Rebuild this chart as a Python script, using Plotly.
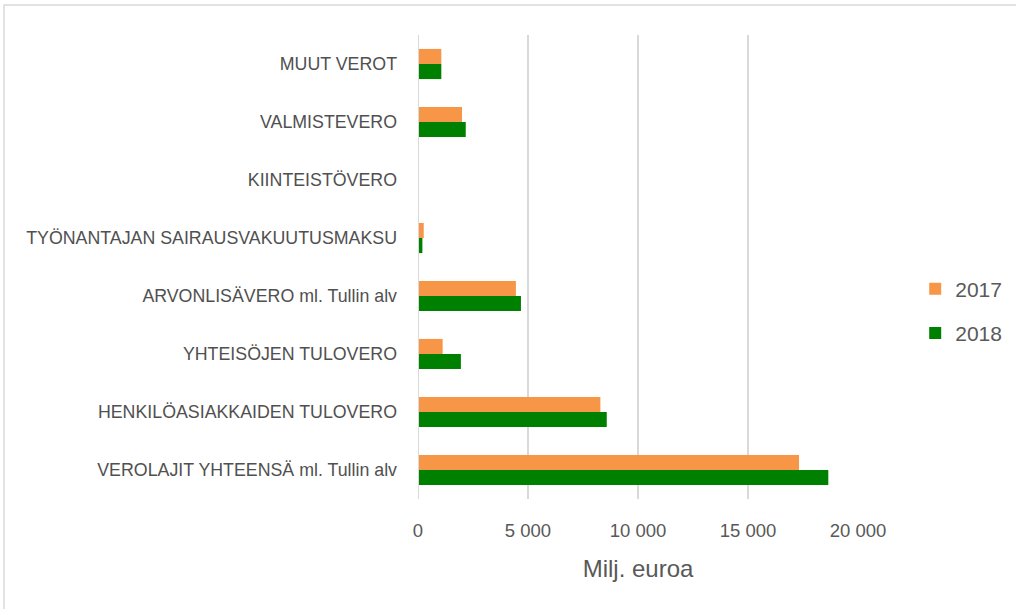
import plotly.graph_objects as go

categories = [
    "VEROLAJIT YHTEENSÄ ml. Tullin alv",
    "HENKILÖASIAKKAIDEN TULOVERO",
    "YHTEISÖJEN TULOVERO",
    "ARVONLISÄVERO ml. Tullin alv",
    "TYÖNANTAJAN SAIRAUSVAKUUTUSMAKSU",
    "KIINTEISTÖVERO",
    "VALMISTEVERO",
    "MUUT VEROT",
]
values_2017 = [17320, 8290, 1120, 4450, 260, 0, 2000, 1060]
values_2018 = [18650, 8580, 1950, 4680, 200, 0, 2170, 1060]
tick_vals = [0, 5000, 10000, 15000, 20000]
tick_text = ["0", "5 000", "10 000", "15 000", "20 000"]

fig = go.Figure()
fig.add_trace(go.Bar(y=categories, x=values_2018, name="2018", orientation="h",
                     legendgroup="b", legendrank=2,
                     marker=dict(color="#008000", line=dict(width=0))))
fig.add_trace(go.Bar(y=categories, x=values_2017, name="2017", orientation="h",
                     legendgroup="a", legendrank=1,
                     marker=dict(color="#F79646", line=dict(width=0))))

L, R, T, B = 418, 158, 35, 110
W, H = 1016, 609
pw, ph = W - L - R, H - T - B

fig.update_layout(
    width=W, height=H,
    margin=dict(l=L, r=R, t=T, b=B, autoexpand=False),
    barmode="group", bargap=0.48, bargroupgap=0,
    plot_bgcolor="white", paper_bgcolor="white",
    font=dict(family="Liberation Sans, sans-serif", color="#595959"),
    legend=dict(traceorder="grouped", x=1.130, y=0.405, xanchor="left", yanchor="middle",
                font=dict(size=21, color="#595959"), itemwidth=30, tracegroupgap=14),
    xaxis=dict(range=[0, 20000], tickvals=tick_vals, ticktext=tick_text,
               showgrid=True, gridcolor="#D9D9D9", gridwidth=1.5,
               zeroline=False, showline=False, ticks="", ticklabelstandoff=18,
               tickfont=dict(size=18.5, color="#595959"),
               title=dict(text="Milj. euroa", font=dict(size=24, color="#595959"), standoff=20)),
    yaxis=dict(showgrid=False, zeroline=False, showline=False, ticks="",
               ticklabelstandoff=20,
               tickfont=dict(size=17.8, color="#505050")),
    shapes=[
        dict(type="line", xref="x", yref="paper", x0=0, x1=0, y0=-0.0, y1=1,
             line=dict(color="#D9D9D9", width=2)),
        dict(type="rect", xref="paper", yref="paper",
             x0=(4 - L) / pw, x1=(1030 - L) / pw,
             y0=(H - B - 620) / ph, y1=(H - B - 5) / ph,
             line=dict(color="#D9D9D9", width=1.5)),
    ],
)

fig.write_html("out.html", config={"displayModeBar": False},
               post_script="document.body.style.margin='0';")
